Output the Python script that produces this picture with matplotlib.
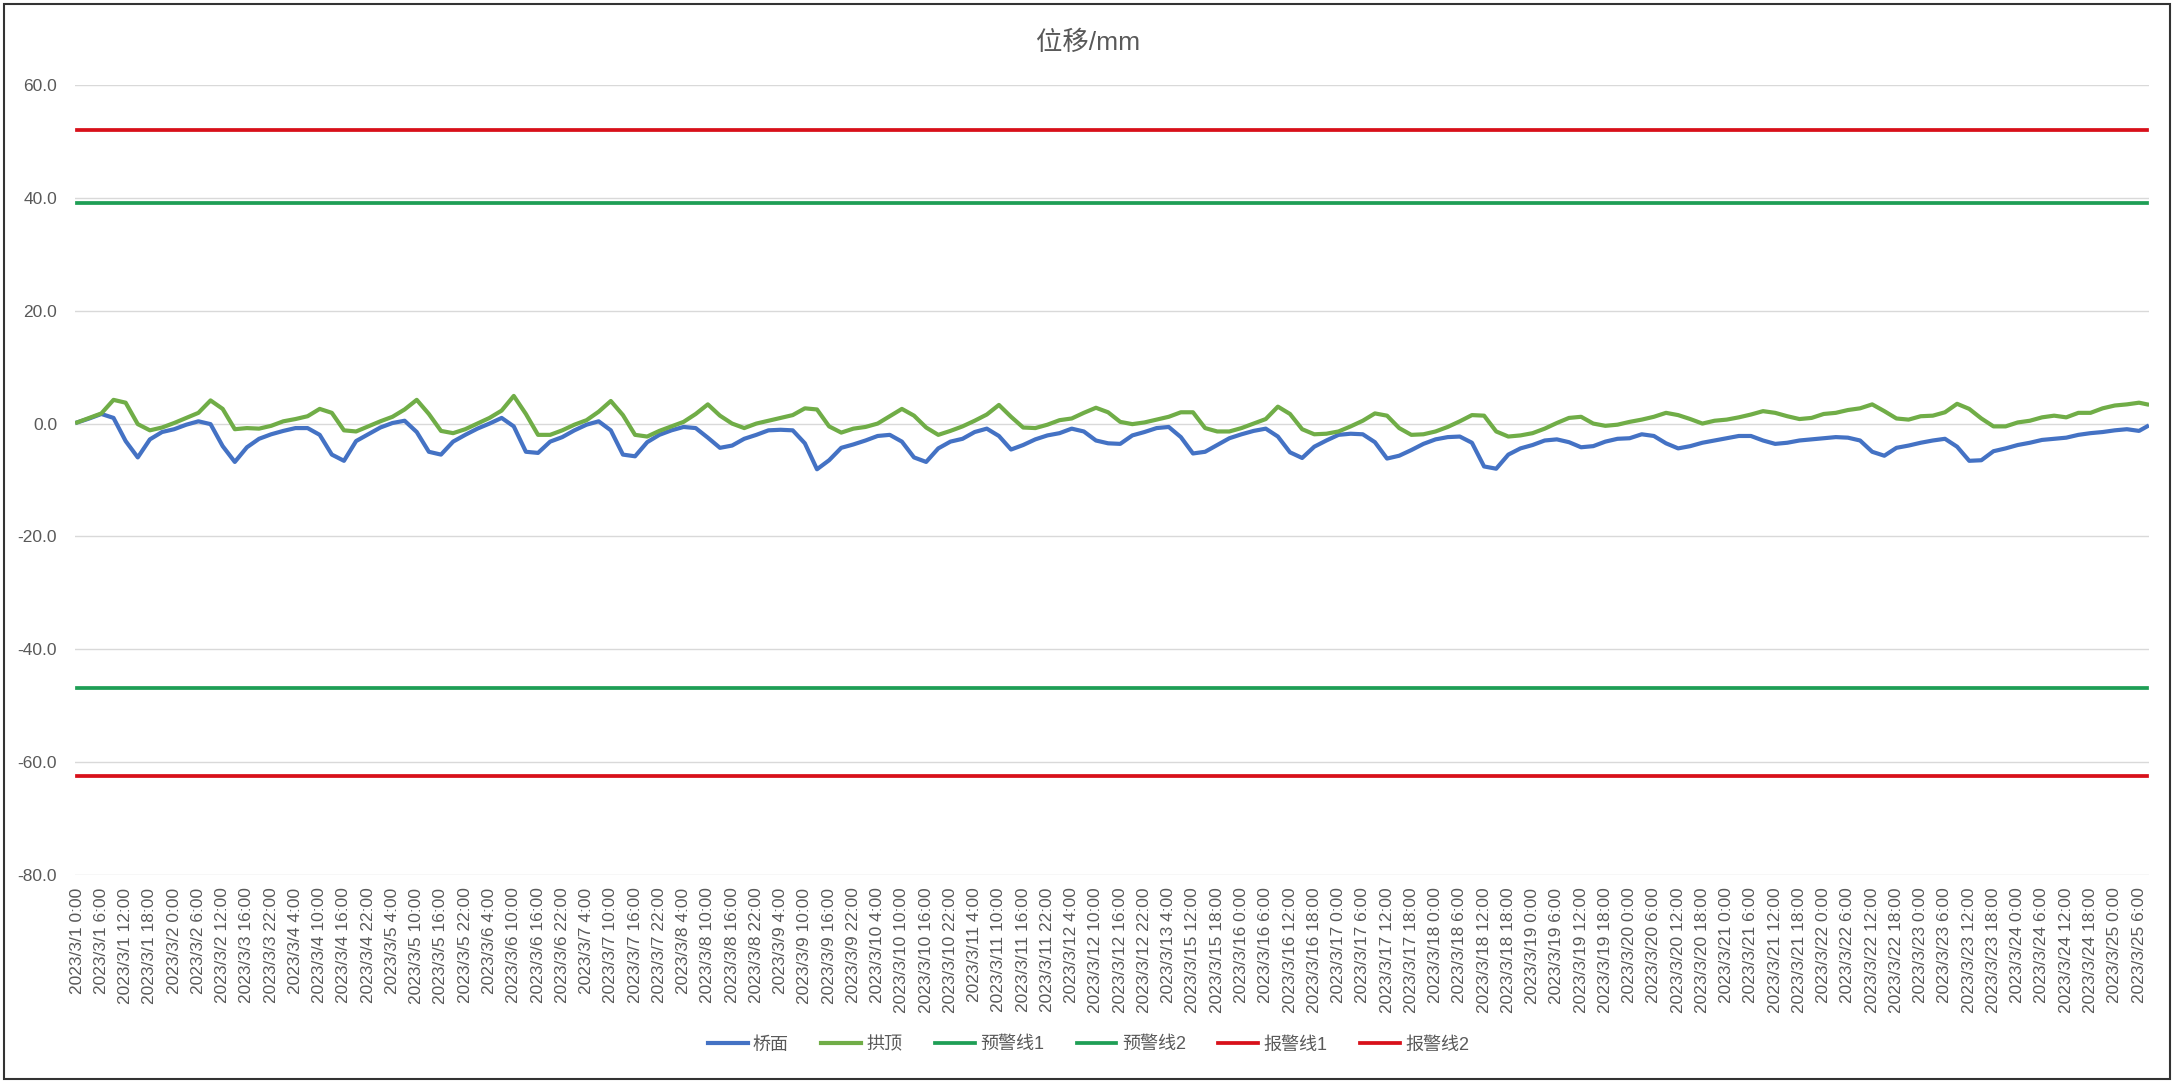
import matplotlib
matplotlib.use('Agg')
import matplotlib.pyplot as plt
import matplotlib.patches as patches
import numpy as np
import pandas as pd

plt.rcParams['font.family'] = ['Liberation Sans', 'Noto Sans CJK SC', 'DejaVu Sans']

# hourly categories (data has two gaps)
seg1 = pd.date_range('2023-03-01 00:00', '2023-03-02 15:00', freq='h')
seg2 = pd.date_range('2023-03-03 14:00', '2023-03-13 06:00', freq='h')
seg3 = pd.date_range('2023-03-15 09:00', '2023-03-25 08:00', freq='h')
times = seg1.append(seg2).append(seg3)
categories = [f"{t.year}/{t.month}/{t.day} {t.hour}:00" for t in times]

# values read every 3rd category (plus the last one)
sample_idx = list(range(0, 511, 3)) + [512]

qiaomian = [
    0.2, 0.9, 1.7, 1.0, -3.1, -6.0, -2.8, -1.5, -1.0, -0.2,
    0.4, -0.1, -4.0, -6.8, -4.2, -2.7, -1.9, -1.3, -0.8, -0.8,
    -2.0, -5.5, -6.6, -3.1, -1.9, -0.7, 0.1, 0.5, -1.5, -5.0,
    -5.5, -3.2, -2.0, -0.9, 0.0, 1.0, -0.5, -5.0, -5.2, -3.2,
    -2.4, -1.2, -0.2,
    0.4, -1.2, -5.5, -5.8, -3.3, -2.0, -1.2, -0.6, -0.8, -2.5,
    -4.3, -3.9, -2.7, -2.0, -1.2, -1.1, -1.2, -3.5, -8.1, -6.5,
    -4.3, -3.7, -3.0, -2.2, -2.0, -3.2, -6.0, -6.8, -4.4, -3.2,
    -2.7, -1.5, -0.9, -2.2, -4.6, -3.8, -2.8, -2.1, -1.7, -0.9,
    -1.4, -3.0, -3.5,
    -3.6, -2.1, -1.5, -0.8, -0.6, -2.4, -5.3, -5.0, -3.8, -2.6,
    -1.9, -1.3, -0.9, -2.3, -5.1, -6.1, -4.1, -3.0, -2.0, -1.8,
    -1.9, -3.3, -6.2, -5.7, -4.7, -3.6, -2.8, -2.4, -2.3, -3.4,
    -7.6, -8.0, -5.5, -4.4, -3.8, -3.0, -2.8, -3.3, -4.2, -4.0,
    -3.2, -2.7,
    -2.6, -1.9, -2.2, -3.5, -4.4, -4.0, -3.4, -3.0, -2.6, -2.2,
    -2.2, -3.0, -3.6, -3.4, -3.0, -2.8, -2.6, -2.4, -2.5, -3.0,
    -5.0, -5.7, -4.3, -3.9, -3.4, -3.0, -2.7, -4.1, -6.6, -6.5,
    -4.9, -4.4, -3.8, -3.4, -2.9, -2.7, -2.5, -2.0, -1.7, -1.5,
    -1.2, -1.0, -1.3,
    -0.5,
]

gongding = [
    0.2, 1.0, 1.8, 4.2, 3.7, -0.1, -1.2, -0.7, 0.1, 1.0,
    1.9, 4.1, 2.6, -1.0, -0.8, -0.9, -0.4, 0.4, 0.8, 1.3,
    2.6, 1.9, -1.2, -1.4, -0.5, 0.4, 1.2, 2.5, 4.2, 1.7,
    -1.3, -1.7, -1.0, 0.0, 1.0, 2.3, 4.9, 1.7, -2.0, -2.0,
    -1.2, -0.2, 0.6,
    2.1, 4.0, 1.5, -2.0, -2.3, -1.3, -0.5, 0.3, 1.7, 3.4,
    1.4, 0.0, -0.8, 0.0, 0.5, 1.0, 1.5, 2.7, 2.5, -0.5,
    -1.6, -0.9, -0.6, 0.0, 1.3, 2.6, 1.4, -0.7, -2.0, -1.3,
    -0.5, 0.5, 1.6, 3.3, 1.2, -0.7, -0.8, -0.2, 0.6, 0.9,
    1.9, 2.8, 2.0,
    0.3, -0.1, 0.2, 0.7, 1.2, 2.0, 2.0, -0.8, -1.4, -1.4,
    -0.8, 0.0, 0.8, 3.0, 1.7, -1.0, -1.9, -1.8, -1.4, -0.5,
    0.5, 1.8, 1.4, -0.8, -2.0, -1.9, -1.4, -0.6, 0.4, 1.5,
    1.4, -1.4, -2.3, -2.1, -1.7, -0.9, 0.1, 1.0, 1.2, 0.0,
    -0.4, -0.2,
    0.3, 0.7, 1.2, 1.9, 1.5, 0.8, 0.0, 0.5, 0.7, 1.1,
    1.6, 2.2, 1.9, 1.3, 0.8, 1.0, 1.7, 1.9, 2.4, 2.7,
    3.4, 2.2, 0.9, 0.7, 1.3, 1.4, 2.0, 3.5, 2.6, 0.9,
    -0.5, -0.5, 0.2, 0.5, 1.1, 1.4, 1.1, 1.9, 1.9, 2.7,
    3.2, 3.4, 3.7,
    3.4,
]

# warning / alarm levels
yujing1 = 39.0
yujing2 = -46.8
baojing1 = 52.0
baojing2 = -62.4

fig = plt.figure(figsize=(21.77, 10.84), dpi=100)
ax = fig.add_axes([0.0345, 0.1928, 0.9527, 0.7288])

n = len(categories)
xs = np.arange(n)
ax.plot(sample_idx, qiaomian, color='#4472C4', lw=3, label='桥面')
ax.plot(sample_idx, gongding, color='#70AD47', lw=3, label='拱顶')
ax.plot(xs, [yujing1] * n, color='#1E9E55', lw=2.7, label='预警线1')
ax.plot(xs, [yujing2] * n, color='#1E9E55', lw=2.7, label='预警线2')
ax.plot(xs, [baojing1] * n, color='#D8101A', lw=2.7, label='报警线1')
ax.plot(xs, [baojing2] * n, color='#D8101A', lw=2.7, label='报警线2')

ax.set_xlim(-0.5, n - 0.5)
ax.set_ylim(-80, 60)
ax.set_yticks(np.arange(-80, 61, 20))
ax.set_yticklabels([f"{v:.1f}" for v in np.arange(-80, 61, 20)])
ax.set_xticks(xs[::6])
ax.set_xticklabels(categories[::6], rotation=90)
ax.tick_params(axis='both', length=0, colors='#595959', labelsize=12.5)
ax.tick_params(axis='y', pad=13)
ax.tick_params(axis='x', pad=9)
ax.grid(axis='y', color='#D9D9D9', lw=1)
ax.set_axisbelow(True)
for s in ax.spines.values():
    s.set_visible(False)

fig.text(0.5, 0.961, '位移/mm', ha='center', va='center', fontsize=19, color='#595959')

fig.legend(loc='center', bbox_to_anchor=(0.5, 0.036), ncol=6, frameon=False,
           fontsize=13, handlelength=2.2, columnspacing=1.8, handletextpad=0.3,
           labelcolor='#595959')

fig.patches.append(patches.Rectangle((0.002, 0.005), 0.995, 0.991, transform=fig.transFigure,
                                     fill=False, edgecolor='#333333', lw=1.5))

fig.savefig('out.png', dpi=100)
